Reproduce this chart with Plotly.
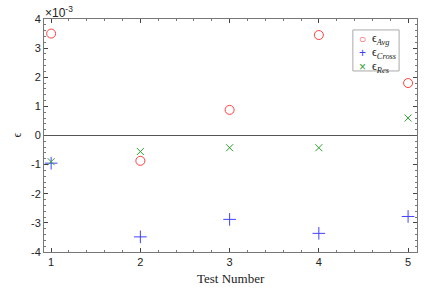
import plotly.graph_objects as go

tests = [1, 2, 3, 4, 5]
eps_avg = [3.5, -0.87, 0.88, 3.45, 1.8]
eps_cross = [-0.95, -3.48, -2.88, -3.36, -2.78]
eps_res = [-0.9, -0.55, -0.42, -0.42, 0.6]
scale = 1e-3
y_ticks = [-4, -3, -2, -1, 0, 1, 2, 3, 4]

RED, BLUE, GREEN = "#ff4040", "#4040ff", "#30a030"
series = [
    ("ϵ<sub><i>Avg</i></sub>", eps_avg, RED, "circle-open", 9, "○"),
    ("ϵ<sub><i>Cross</i></sub>", eps_cross, BLUE, "cross-thin-open", 9, "+"),
    ("ϵ<sub><i>Res</i></sub>", eps_res, GREEN, "x-thin-open", 7, "×"),
]

fig = go.Figure()
for name, vals, col, sym, size, _ in series:
    fig.add_trace(go.Scatter(x=tests, y=[v * scale for v in vals], mode="markers", name=name,
                             marker=dict(symbol=sym, size=size, color=col, line=dict(width=1, color=col))))

fig.add_shape(type="line", xref="paper", x0=0, x1=1, yref="y", y0=0, y1=0,
              line=dict(color="#555555", width=1))

fig.update_layout(
    width=436, height=296,
    margin=dict(l=44, r=19, t=19, b=44, autoexpand=False),
    paper_bgcolor="white", plot_bgcolor="white",
    font=dict(family="Liberation Sans, Arial", size=11, color="#222"),
    showlegend=False,
    xaxis=dict(range=[0.92, 5.1], tickvals=tests, ticks="inside", ticklen=4, automargin=False,
               minor=dict(dtick=0.2, ticks="inside", ticklen=2, tickcolor="#777"),
               showline=True, linecolor="#777", mirror="allticks", showgrid=False, zeroline=False),
    yaxis=dict(range=[-4e-3, 4e-3], tickvals=[i * scale for i in y_ticks], automargin=False,
               ticktext=[str(i) for i in y_ticks], ticks="inside", ticklen=4,
               minor=dict(dtick=0.2e-3, ticks="inside", ticklen=2, tickcolor="#777"),
               showline=True, linecolor="#777", mirror="allticks", showgrid=False, zeroline=False),
)
fig.add_annotation(xref="paper", yref="paper", x=-0.003, y=1.0, xanchor="left", yanchor="bottom",
                   text="×10<sup>-3</sup>", showarrow=False, font=dict(size=12, color="#222"), yshift=-3)
fig.add_annotation(xref="paper", yref="paper", x=0.5, y=0, xanchor="center", yanchor="top",
                   text="Test Number", showarrow=False, yshift=-17,
                   font=dict(family="Liberation Serif, serif", size=13, color="#222"))
fig.add_annotation(xref="paper", yref="paper", x=0, y=0.5, xanchor="center", yanchor="middle",
                   text="ϵ", showarrow=False, xshift=-28, textangle=-90,
                   font=dict(family="Liberation Serif, serif", size=12, color="#222"))

# legend box
fig.add_shape(type="rect", xref="paper", yref="paper", x0=0.828, x1=0.952, y0=0.777, y1=0.953,
              line=dict(color="#aaa", width=1), fillcolor="white", layer="above")
rows = [0.914, 0.854, 0.794]
for (name, _, col, _, _, glyph), yy in zip(series, rows):
    fig.add_annotation(xref="paper", yref="paper", x=0.855, y=yy, xanchor="center", yanchor="middle",
                       text=glyph, showarrow=False, font=dict(size=12, color=col))
    fig.add_annotation(xref="paper", yref="paper", x=0.874, y=yy, xanchor="left", yanchor="middle",
                       text=name, showarrow=False,
                       font=dict(family="Liberation Serif, serif", size=12, color="#222"))

fig.write_html("out.html", post_script="document.body.style.margin='0';",
               config={"displayModeBar": False})
